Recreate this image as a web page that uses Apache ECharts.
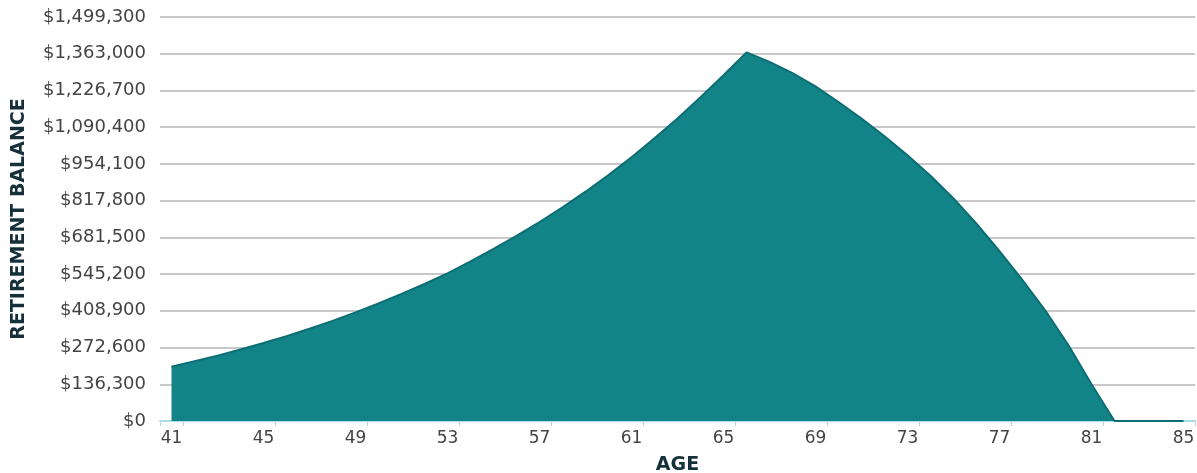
<!DOCTYPE html>
<html>
<head>
<meta charset="utf-8">
<script src="https://cdn.jsdelivr.net/npm/echarts@6/dist/echarts.min.js"></script>
<style>
  html, body { margin: 0; padding: 0; background: #ffffff; }
  #chart { width: 1197px; height: 473px; }
</style>
</head>
<body>
<div id="chart"></div>
<script>
const ages = ['41','42','43','44','45','46','47','48','49','50','51','52','53','54','55','56','57','58','59','60','61','62','63','64','65','66','67','68','69','70','71','72','73','74','75','76','77','78','79','80','81','82','83','84','85'];
const balances = [201500, 221500, 242600, 265200, 289300, 315000, 342400, 371700, 403000, 436500, 472000, 508500, 548000, 592000, 638500, 687000, 738500, 793000, 851000, 913000, 979000, 1049000, 1123000, 1202000, 1283000, 1368000, 1333000, 1291000, 1242000, 1184000, 1122000, 1057000, 986500, 910000, 826000, 732000, 630000, 523000, 408900, 281000, 136300, 0, 0, 0, 0];
const yTicks = [0, 136300, 272600, 408900, 545200, 681500, 817800, 954100, 1090400, 1226700, 1363000, 1499300];
const xTitle = 'AGE';
const yTitle = 'RETIREMENT BALANCE';

const chart = echarts.init(document.getElementById('chart'), null, { renderer: 'canvas' });
chart.setOption({
  backgroundColor: '#ffffff',
  animation: false,
  textStyle: { fontFamily: 'DejaVu Sans' },
  grid: { left: 160, right: 2, top: 17, bottom: 52, containLabel: false, outerBoundsMode: 'none' },
  xAxis: {
    type: 'category',
    data: ages,
    boundaryGap: true,
    name: xTitle,
    nameLocation: 'middle',
    nameGap: 35,
    nameTextStyle: { fontFamily: 'DejaVu Sans', fontWeight: 'bold', fontSize: 19, color: '#14303a' },
    axisLine: { lineStyle: { color: '#a8dcea', width: 2 } },
    axisTick: { show: true, interval: (i) => i === 0 || i % 4 === 1, length: 5, lineStyle: { color: '#a8dcea', width: 1 } },
    axisLabel: { interval: 3, fontSize: 17, color: '#444444', margin: 9, fontFamily: 'DejaVu Sans' },
    splitLine: { show: false }
  },
  yAxis: {
    type: 'value',
    min: yTicks[0],
    max: yTicks[yTicks.length - 1],
    interval: yTicks[1] - yTicks[0],
    name: yTitle,
    nameLocation: 'middle',
    nameGap: 131,
    nameRotate: 90,
    nameTextStyle: { fontFamily: 'DejaVu Sans', fontWeight: 'bold', fontSize: 19, color: '#14303a' },
    axisLine: { show: false },
    axisTick: { show: false },
    axisLabel: {
      fontSize: 18, color: '#444444', margin: 14, fontFamily: 'DejaVu Sans',
      formatter: v => '$' + v.toLocaleString('en-US')
    },
    splitLine: { show: true, lineStyle: { color: '#b4b4b8', width: 1.5 } }
  },
  series: [{
    type: 'line',
    data: balances,
    symbol: 'none',
    smooth: false,
    lineStyle: { color: '#0c6e74', width: 2 },
    areaStyle: { color: '#128488', opacity: 1 },
    z: 3
  }]
});
</script>
</body>
</html>
